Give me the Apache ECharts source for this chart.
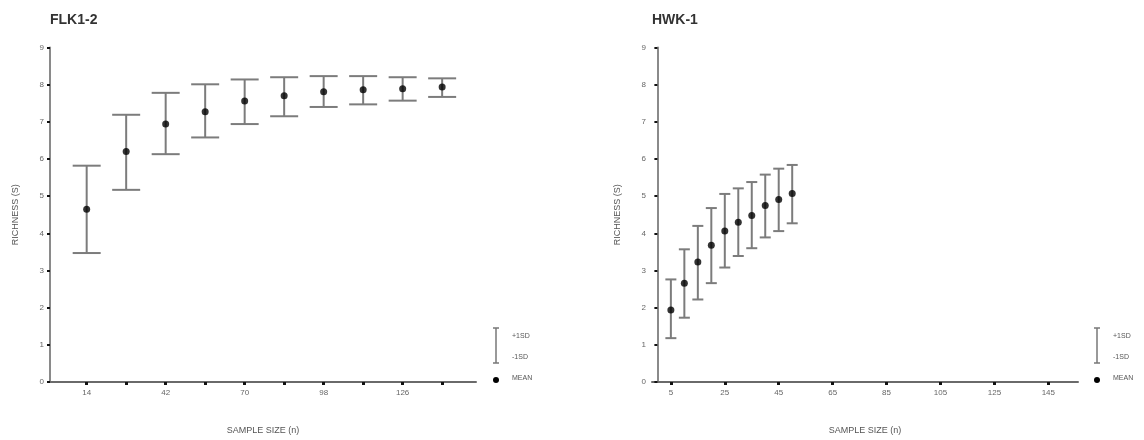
<!DOCTYPE html>
<html>
<head>
<meta charset="utf-8">
<script src="https://cdn.jsdelivr.net/npm/echarts@6/dist/echarts.min.js"></script>
<style>
  html, body { margin: 0; padding: 0; background: #fff; }
  #chart { width: 1144px; height: 440px; }
</style>
</head>
<body>
<div id="chart"></div>
<script>
// FLK1-2
const flkSizes = [14, 28, 42, 56, 70, 84, 98, 112, 126, 140];
const flkMean  = [4.65, 6.20, 6.94, 7.27, 7.56, 7.70, 7.81, 7.86, 7.89, 7.94];
const flkUpper = [5.82, 7.19, 7.78, 8.01, 8.14, 8.20, 8.23, 8.23, 8.20, 8.17];
const flkLower = [3.47, 5.17, 6.13, 6.58, 6.94, 7.15, 7.40, 7.47, 7.57, 7.67];
const flkTicks  = [14, 28, 42, 56, 70, 84, 98, 112, 126, 140];
const flkLabels = [14, 42, 70, 98, 126];

// HWK-1
const hwkSizes = [5, 10, 15, 20, 25, 30, 35, 40, 45, 50];
const hwkMean  = [1.94, 2.66, 3.23, 3.68, 4.06, 4.30, 4.48, 4.75, 4.91, 5.07];
const hwkUpper = [2.76, 3.57, 4.20, 4.68, 5.06, 5.21, 5.38, 5.58, 5.74, 5.84];
const hwkLower = [1.18, 1.73, 2.22, 2.66, 3.08, 3.39, 3.60, 3.89, 4.06, 4.27];
const hwkTicks  = [5, 25, 45, 65, 85, 105, 125, 145];
const hwkLabels = [5, 25, 45, 65, 85, 105, 125, 145];

const titles = ['FLK1-2', 'HWK-1'];
const legendTexts = ['+1SD', '-1SD', 'MEAN'];

const FONT = 'Liberation Sans, Arial, sans-serif';
const BAR = '#7c7c7c';

const chart = echarts.init(document.getElementById('chart'));

function errorBars(idx, sizes, lower, upper, halfCap) {
  return {
    type: 'custom',
    xAxisIndex: idx,
    yAxisIndex: idx,
    data: sizes.map((n, i) => [n, lower[i], upper[i]]),
    renderItem: (params, api) => {
      const lo = api.coord([api.value(0), api.value(1)]);
      const hi = api.coord([api.value(0), api.value(2)]);
      const style = { stroke: BAR, lineWidth: 2 };
      return {
        type: 'group',
        children: [
          { type: 'line', shape: { x1: lo[0], y1: lo[1], x2: hi[0], y2: hi[1] }, style },
          { type: 'line', shape: { x1: hi[0] - halfCap, y1: hi[1], x2: hi[0] + halfCap, y2: hi[1] }, style },
          { type: 'line', shape: { x1: lo[0] - halfCap, y1: lo[1], x2: lo[0] + halfCap, y2: lo[1] }, style }
        ]
      };
    },
    z: 2
  };
}

function xAxis(idx, min, max, ticks, labels) {
  return {
    type: 'value',
    gridIndex: idx,
    min, max,
    name: 'SAMPLE SIZE (n)',
    nameLocation: 'middle',
    nameGap: 44,
    nameTextStyle: { color: '#555', fontSize: 9, fontFamily: FONT },
    axisLine: { lineStyle: { color: '#6a6a6a', width: 2 } },
    axisTick: { show: true, customValues: ticks, length: 3, lineStyle: { color: '#111', width: 3 } },
    axisLabel: { customValues: labels, color: '#666', fontSize: 8, fontFamily: FONT, margin: 7 },
    splitLine: { show: false }
  };
}

function yAxis(idx) {
  return {
    type: 'value',
    gridIndex: idx,
    min: 0, max: 9, interval: 1,
    name: 'RICHNESS (S)',
    nameLocation: 'middle',
    nameGap: 30,
    nameTextStyle: { color: '#555', fontSize: 9, fontFamily: FONT },
    axisLine: { show: true, lineStyle: { color: '#8a8a8a', width: 2 } },
    axisTick: { show: true, length: 3, lineStyle: { color: '#111', width: 2 } },
    axisLabel: { color: '#666', fontSize: 8, fontFamily: FONT, margin: 6 },
    splitLine: { show: false }
  };
}

function legendGraphic(x) {
  const c = '#777';
  return [
    { type: 'line', shape: { x1: x, y1: 328, x2: x, y2: 363 }, style: { stroke: c, lineWidth: 1.5 } },
    { type: 'line', shape: { x1: x - 3, y1: 328, x2: x + 3, y2: 328 }, style: { stroke: c, lineWidth: 1.5 } },
    { type: 'line', shape: { x1: x - 3, y1: 363, x2: x + 3, y2: 363 }, style: { stroke: c, lineWidth: 1.5 } },
    { type: 'circle', shape: { cx: x, cy: 380, r: 3 }, style: { fill: '#000' } },
    { type: 'text', x: x + 16, y: 336, style: { text: legendTexts[0], fill: '#555', font: '7px ' + FONT, verticalAlign: 'middle' } },
    { type: 'text', x: x + 16, y: 357, style: { text: legendTexts[1], fill: '#555', font: '7px ' + FONT, verticalAlign: 'middle' } },
    { type: 'text', x: x + 16, y: 378, style: { text: legendTexts[2], fill: '#555', font: '7px ' + FONT, verticalAlign: 'middle' } }
  ];
}

chart.setOption({
  backgroundColor: '#fff',
  animation: false,
  title: [
    { text: titles[0], left: 45, top: 8, textStyle: { fontSize: 14, fontWeight: 'bold', color: '#333', fontFamily: FONT } },
    { text: titles[1], left: 647, top: 8, textStyle: { fontSize: 14, fontWeight: 'bold', color: '#333', fontFamily: FONT } }
  ],
  grid: [
    { left: 50, top: 47.5, width: 426, height: 335 },
    { left: 652, top: 47.5, width: 426, height: 335 }
  ],
  xAxis: [
    xAxis(0, 1, 152, flkTicks, flkLabels),
    xAxis(1, -2, 156, hwkTicks, hwkLabels)
  ],
  yAxis: [yAxis(0), yAxis(1)],
  graphic: [...legendGraphic(496), ...legendGraphic(1097)],
  series: [
    errorBars(0, flkSizes, flkLower, flkUpper, 14),
    {
      type: 'scatter', xAxisIndex: 0, yAxisIndex: 0,
      data: flkSizes.map((n, i) => [n, flkMean[i]]),
      symbolSize: 7, itemStyle: { color: '#000' }, z: 3
    },
    errorBars(1, hwkSizes, hwkLower, hwkUpper, 5.5),
    {
      type: 'scatter', xAxisIndex: 1, yAxisIndex: 1,
      data: hwkSizes.map((n, i) => [n, hwkMean[i]]),
      symbolSize: 7, itemStyle: { color: '#000' }, z: 3
    }
  ]
});
</script>
</body>
</html>
